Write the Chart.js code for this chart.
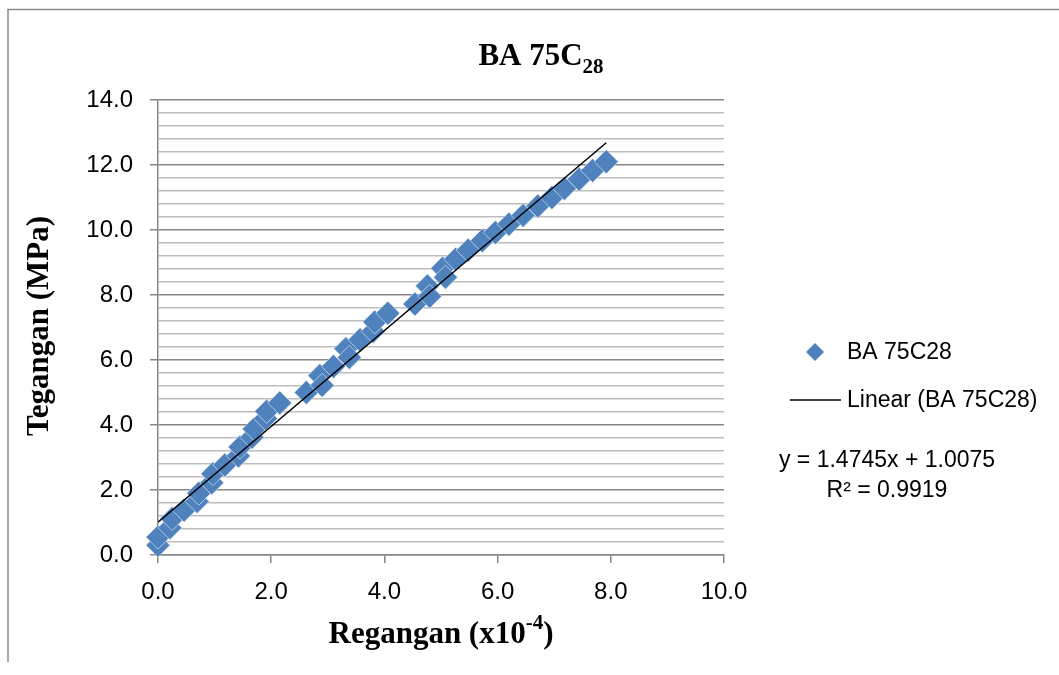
<!DOCTYPE html>
<html>
<head>
<meta charset="utf-8">
<script src="https://cdn.jsdelivr.net/npm/chart.js@4.4.0/dist/chart.umd.min.js"></script>
<style>
html,body{margin:0;padding:0;background:#fff;}
#wrap{position:relative;width:1059px;height:675px;}
</style>
</head>
<body>
<div id="wrap"><canvas id="c" width="1059" height="675"></canvas></div>
<script>
// ---- data ----
const strain = [0.00,0.00,0.21,0.25,0.46,0.69,0.72,0.95,0.97,1.18,1.42,1.45,1.66,1.70,1.90,1.92,2.15,2.62,2.86,2.90,3.10,3.32,3.38,3.57,3.80,3.83,4.06,4.54,4.76,4.80,5.03,5.08,5.26,5.48,5.73,5.96,6.20,6.45,6.71,6.96,7.18,7.44,7.68,7.92];
const stress = [0.30,0.55,0.84,1.12,1.38,1.65,1.90,2.22,2.50,2.77,3.05,3.32,3.62,3.88,4.20,4.42,4.68,5.00,5.52,5.22,5.80,6.35,6.08,6.62,6.88,7.17,7.44,7.72,8.28,7.96,8.82,8.55,9.10,9.38,9.67,9.92,10.18,10.45,10.74,11.00,11.28,11.56,11.83,12.10];
const trendSlope = [1.4745];
const trendIntercept = [1.0075];
const rSquared = ['0.9919'];
const seriesName = 'BA 75C28';
const xTicks = [0,2,4,6,8,10];
const yTicks = [0,2,4,6,8,10,12,14];

const points = strain.map((x,i)=>({x:x,y:stress[i]}));
const xEnd = Math.max(...strain);
const trend = [0, xEnd].map(x=>({x:x,y:trendSlope[0]*x+trendIntercept[0]}));

const isMajor = v => Math.abs(v/2 - Math.round(v/2)) < 1e-6;
const TICKFONT = {family:'"Liberation Sans", Arial, sans-serif', size:24};

const decor = {
  id:'decor',
  beforeDraw(chart){
    const ctx = chart.ctx;
    ctx.save();
    ctx.fillStyle='#fff';
    ctx.fillRect(0,0,chart.width,chart.height);
    ctx.strokeStyle='#8c8c8c';
    ctx.lineWidth=1.5;
    ctx.beginPath();
    ctx.moveTo(8,662); ctx.lineTo(8,9.5); ctx.lineTo(1059,9.5);
    ctx.stroke();
    ctx.restore();
  },
  afterDraw(chart){
    const ctx = chart.ctx;
    ctx.save();
    ctx.fillStyle='#000';
    // title with subscript
    const big='bold 31px "Liberation Serif", "Times New Roman", serif';
    const small='bold 21px "Liberation Serif", "Times New Roman", serif';
    ctx.font=big; const w1=ctx.measureText('BA 75C').width;
    ctx.font=small; const w2=ctx.measureText('28').width;
    let sx=541-(w1+w2)/2;
    ctx.textBaseline='alphabetic'; ctx.textAlign='left';
    ctx.font=big; ctx.fillText('BA 75C',sx,65);
    ctx.font=small; ctx.fillText('28',sx+w1,73);
    // x title with superscript
    const bigX='bold 31px "Liberation Serif", "Times New Roman", serif';
    const t1='Regangan (x10', t2='-4', t3=')';
    ctx.font=bigX; const a=ctx.measureText(t1).width, c=ctx.measureText(t3).width;
    ctx.font=small; const b=ctx.measureText(t2).width;
    let xx=441-(a+b+c)/2;
    ctx.font=bigX; ctx.fillText(t1,xx,643);
    ctx.font=small; ctx.fillText(t2,xx+a,629);
    ctx.font=bigX; ctx.fillText(t3,xx+a+b,643);
    // y title
    ctx.save();
    ctx.translate(48,326); ctx.rotate(-Math.PI/2);
    ctx.font=bigX; ctx.textAlign='center'; ctx.textBaseline='alphabetic';
    ctx.fillText('Tegangan (MPa)',0,0);
    ctx.restore();
    // legend
    ctx.font='23px "Liberation Sans", Arial, sans-serif';
    ctx.textAlign='left'; ctx.textBaseline='middle';
    ctx.fillStyle='#4F81BD';
    ctx.beginPath();
    ctx.moveTo(815,343); ctx.lineTo(824,352); ctx.lineTo(815,361); ctx.lineTo(806,352); ctx.closePath();
    ctx.fill();
    ctx.fillStyle='#000';
    ctx.fillText(seriesName,847,353);
    ctx.strokeStyle='#000'; ctx.lineWidth=1.5;
    ctx.beginPath(); ctx.moveTo(790,400); ctx.lineTo(841,400); ctx.stroke();
    ctx.fillText('Linear ('+seriesName+')',847,401);
    ctx.textAlign='center';
    ctx.fillText('y = '+trendSlope[0]+'x + '+trendIntercept[0],887,461);
    ctx.fillText('R\u00B2 = '+rSquared[0],887,491);
    ctx.restore();
  }
};

new Chart(document.getElementById('c'),{
  type:'scatter',
  data:{datasets:[
    {label:'Linear ('+seriesName+')',data:trend,type:'line',showLine:true,borderColor:'#000',borderWidth:1.5,pointRadius:0,fill:false,order:1},
    {label:seriesName,data:points,clip:false,pointStyle:'rectRot',pointRadius:12,pointHoverRadius:12,backgroundColor:'#4F81BD',borderColor:'rgba(225,234,246,0.8)',borderWidth:0.8,order:2}
  ]},
  options:{
    responsive:false,animation:false,
    layout:{padding:{left:0,top:100,right:335,bottom:0}},
    plugins:{legend:{display:false},title:{display:false},tooltip:{enabled:false}},
    scales:{
      x:{type:'linear',min:0,max:10,
        afterFit:s=>{s.height=120;},
        afterBuildTicks:s=>{s.ticks=xTicks.map(v=>({value:v}));},
        ticks:{font:TICKFONT,color:'#000',padding:15,maxRotation:0,callback:v=>v.toFixed(1)},
        grid:{drawOnChartArea:false,drawTicks:true,tickLength:8,tickColor:'#868686',lineWidth:1.5},
        border:{display:true,color:'#868686',width:1.5}
      },
      y:{type:'linear',min:0,max:14,
        afterFit:s=>{s.width=158;},
        afterBuildTicks:s=>{const t=[];for(let i=0;i<=35;i++){t.push({value:Math.round(i*0.4*10)/10});}s.ticks=t;},
        ticks:{font:TICKFONT,color:'#000',padding:17,autoSkip:false,callback:v=>isMajor(v)?v.toFixed(1):''},
        grid:{drawOnChartArea:true,drawTicks:true,tickLength:8,
          color:c=>isMajor(c.tick.value)?'#858585':'#bdbdbd',
          tickColor:c=>isMajor(c.tick.value)?'#868686':'rgba(0,0,0,0)',
          lineWidth:1.5},
        border:{display:true,color:'#868686',width:1.5}
      }
    }
  },
  plugins:[decor]
});
</script>
</body>
</html>
